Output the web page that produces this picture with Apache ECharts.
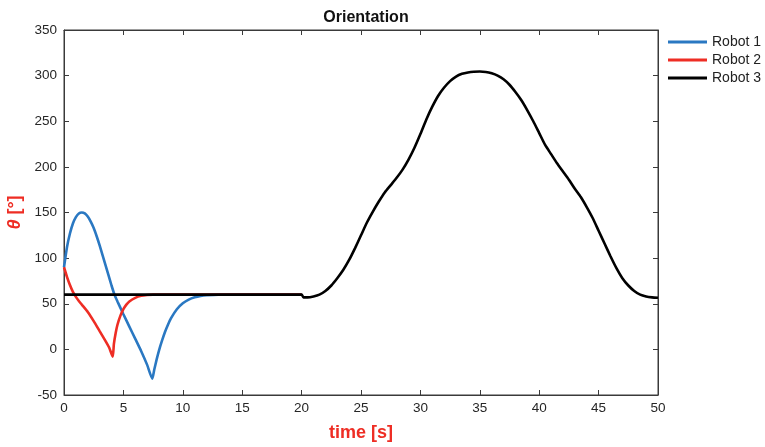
<!DOCTYPE html>
<html><head><meta charset="utf-8">
<script src="https://cdn.jsdelivr.net/npm/echarts@6/dist/echarts.min.js"></script>
<style>html,body{margin:0;padding:0;background:#fff}#c{width:765px;height:447px}</style>
</head><body><div id="c"></div>
<script>
const seriesNames = ['Robot 1', 'Robot 2', 'Robot 3'];
const robot1T = [0,0.25,0.5,0.75,1,1.25,1.5,1.75,2,2.25,2.5,2.75,3,3.25,3.5,3.75,4,4.25,4.5,4.75,5,5.5,6,6.5,7,7.43,7.6,7.8,8,8.25,8.5,8.75,9,9.5,10,10.5,11,11.5,12,13,20];
const robot1V = [90,112,127,138,145,149,150,149,145.5,140,133,124,114,103,92,81,70,60,52.5,45.5,38.5,25,11.5,-2,-17,-32,-22,-11,-1,9.5,19,27,34,44,50.5,54.5,57,58.5,59.3,60,60];
const robot2T = [0,0.25,0.5,0.75,1,1.25,1.5,2,2.5,3,3.5,3.8,4.1,4.2,4.35,4.5,4.75,5,5.25,5.5,6,6.5,7,7.5,20];
const robot2V = [90,79.5,70.5,63,57.5,53,49,41,31,20,9,2,-8,6,18,27,37,44,49,52.5,56.5,58.7,59.6,60,60];
const robot3T = [0,20,20.15,20.5,21,21.5,22,22.5,23,23.5,24,24.5,25,25.5,26,26.5,27,27.5,28,28.5,29,29.5,30,30.5,31,31.5,32,32.5,33,33.5,34,34.5,35,35.5,36,36.5,37,37.5,38,38.5,39,39.5,40,40.5,41,41.5,42,42.5,43,43.5,44,44.5,45,45.5,46,46.5,47,47.5,48,48.5,49,49.5,50];
const robot3V = [60,60,57,57,58,60,64,70,78,87,98,111,125,139,151,162,172,180,188,197,208,221,236,252,266,278,287,294,299,302,303.5,304.3,304.5,304,302.5,300,296,290,282,273,262,250,237,224,214,204,195,186,176,167,156,144,130,116,102,89,78,70,64,60,58,57,56.5];
const xTicks = [0,5,10,15,20,25,30,35,40,45,50];
const yTicks = [-50,0,50,100,150,200,250,300,350];
const colors = ['#2a78c2', '#ee2d24', '#000000'];

const zip = (t, v) => t.map((x, i) => [x, v[i]]);
const datasets = [zip(robot1T, robot1V), zip(robot2T, robot2V), zip(robot3T, robot3V)];

const font = 'Liberation Sans, Arial, sans-serif';
const axisCol = '#3a3a3a';
const chart = echarts.init(document.getElementById('c'));
chart.setOption({
  animation: false,
  textStyle: {fontFamily: font},
  title: {text: 'Orientation', left: 361, top: 5, textAlign: 'center',
    textStyle: {fontSize: 16, fontWeight: 'bold', color: '#111', fontFamily: font}},
  legend: {
    orient: 'vertical', left: 668, top: 35, padding: 0, itemWidth: 39, itemHeight: 3, itemGap: 4,
    data: seriesNames, icon: 'rect',
    textStyle: {fontSize: 14, color: '#222', fontFamily: font, padding: [0,0,0,0]}
  },
  grid: {left: 64, right: 107, top: 30, bottom: 52, show: true, borderColor: axisCol, borderWidth: 1,
    containLabel: false, outerBoundsMode: 'none'},
  xAxis: [{
    type: 'value', min: 0, max: 50, interval: 5,
    name: 'time [s]', nameLocation: 'middle', nameGap: 29,
    nameTextStyle: {color: '#ee2d24', fontSize: 18, fontWeight: 'bold', fontFamily: font},
    axisLine: {show: true, onZero: false, lineStyle: {color: axisCol}},
    axisTick: {show: true, inside: true, length: 5, lineStyle: {color: axisCol}},
    axisLabel: {fontSize: 13.5, color: '#262626', margin: 6},
    splitLine: {show: false}
  }, {
    type: 'value', min: 0, max: 50, interval: 5, position: 'top',
    axisLine: {show: true, onZero: false, lineStyle: {color: axisCol}},
    axisTick: {show: true, inside: true, length: 5, lineStyle: {color: axisCol}},
    axisLabel: {show: false}, splitLine: {show: false}
  }],
  yAxis: [{
    type: 'value', min: -50, max: 350, interval: 50,
    name: '{i|θ} [°]', nameLocation: 'middle', nameGap: 39, nameRotate: 90,
    nameTextStyle: {color: '#ee2d24', fontSize: 18, fontWeight: 'bold', fontFamily: font,
      rich: {i: {fontStyle: 'italic', fontWeight: 'bold', color: '#ee2d24', fontSize: 18, fontFamily: font}}},
    axisLine: {show: true, onZero: false, lineStyle: {color: axisCol}},
    axisTick: {show: true, inside: true, length: 5, lineStyle: {color: axisCol}},
    axisLabel: {fontSize: 13.5, color: '#262626', margin: 7},
    splitLine: {show: false}
  }, {
    type: 'value', min: -50, max: 350, interval: 50, position: 'right',
    axisLine: {show: true, onZero: false, lineStyle: {color: axisCol}},
    axisTick: {show: true, inside: true, length: 5, lineStyle: {color: axisCol}},
    axisLabel: {show: false}, splitLine: {show: false}
  }],
  series: seriesNames.map((n, i) => ({
    name: n, type: 'line', data: datasets[i], showSymbol: false, symbol: 'none',
    smooth: 0.2, color: colors[i], lineStyle: {width: 2.6, color: colors[i]},
    itemStyle: {color: colors[i]}, z: 2 + i
  }))
});
</script></body></html>
